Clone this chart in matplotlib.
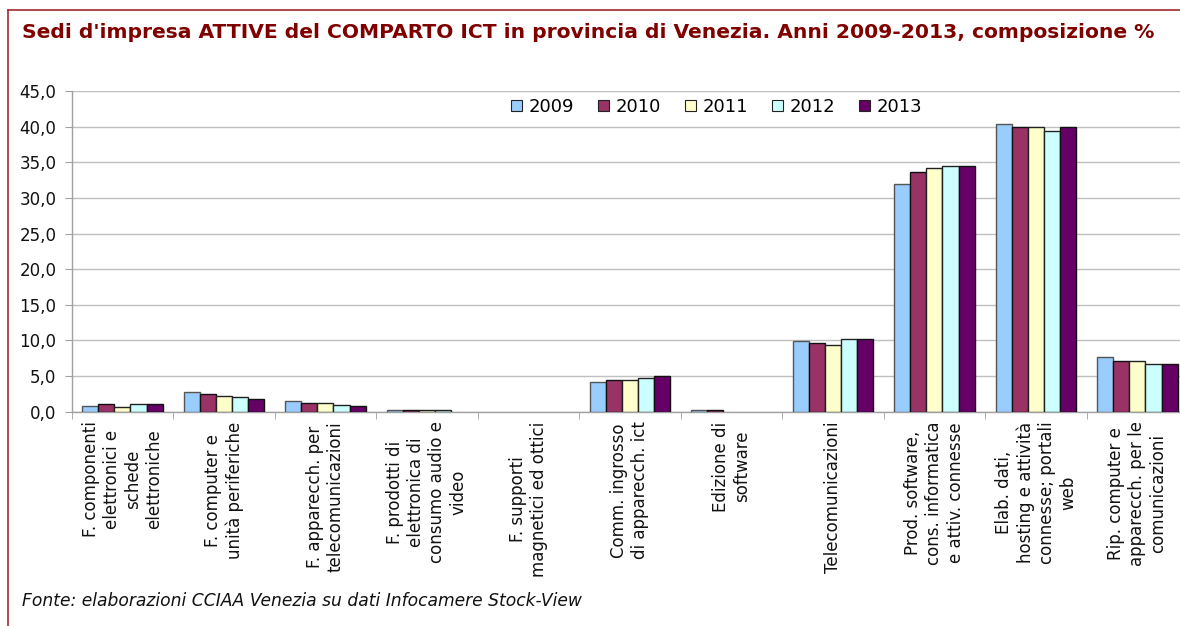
import matplotlib
matplotlib.use("Agg")
import matplotlib.pyplot as plt
from matplotlib.patches import Rectangle
from matplotlib.lines import Line2D
import numpy as np

categories = [
    "F. componenti\nelettronici e\nschede\nelettroniche",
    "F. computer e\nunità periferiche",
    "F. apparecch. per\ntelecomunicazioni",
    "F. prodotti di\nelettronica di\nconsumo audio e\nvideo",
    "F. supporti\nmagnetici ed ottici",
    "Comm. ingrosso\ndi apparecch. ict",
    "Edizione di\nsoftware",
    "Telecomunicazioni",
    "Prod. software,\ncons. informatica\ne attiv. connesse",
    "Elab. dati,\nhosting e attività\nconnesse; portali\nweb",
    "Rip. computer e\napparecch. per le\ncomunicazioni",
]
years = ["2009", "2010", "2011", "2012", "2013"]
v2009 = [0.75, 2.8, 1.5, 0.2, 0.0, 4.2, 0.2, 9.9, 31.95, 40.4, 7.65]
v2010 = [1.05, 2.5, 1.25, 0.3, 0.0, 4.45, 0.3, 9.65, 33.7, 39.95, 7.15]
v2011 = [0.7, 2.25, 1.25, 0.3, 0.0, 4.4, 0.0, 9.35, 34.2, 39.95, 7.15]
v2012 = [1.05, 2.0, 1.0, 0.3, 0.0, 4.7, 0.0, 10.15, 34.5, 39.4, 6.65]
v2013 = [1.05, 1.8, 0.8, 0.0, 0.0, 4.95, 0.0, 10.15, 34.5, 39.95, 6.65]
series = [v2009, v2010, v2011, v2012, v2013]
colors = ["#99CCFF", "#993366", "#FFFFCC", "#CCFFFF", "#660066"]
edges = ["#555555", "#111111", "#222222", "#222222", "#111111"]
yticks = np.arange(0, 46, 5)

W, H = 1180, 626
fig = plt.figure(figsize=(W / 100, H / 100), dpi=100)
fig.patch.set_facecolor("white")

# axes placement in pixels
ax_l, ax_top, ax_bot = 71.7, 91.0, 411.7
cat_w = 101.5
ax_w = cat_w * len(categories)
ax = fig.add_axes([ax_l / W, (H - ax_bot) / H, ax_w / W, (ax_bot - ax_top) / H])

n = len(categories)
x = np.arange(n)
bw = 0.158
for i, (vals, c, ec) in enumerate(zip(series, colors, edges)):
    offs = (i - 2) * bw
    mask = [v > 0 for v in vals]
    xs = [xx + offs for xx, m in zip(x, mask) if m]
    vs = [v for v, m in zip(vals, mask) if m]
    ax.bar(xs, vs, width=bw, color=c, edgecolor=ec, linewidth=1.0, zorder=3,
           label=years[i])

ax.set_xlim(-0.5, n - 0.5)
ax.set_ylim(0, 45)
ax.set_yticks(yticks)
ax.set_yticklabels([f"{t:.1f}".replace(".", ",") for t in yticks], fontsize=12,
                   color="#111111")
ax.yaxis.grid(True, color="#C0C0C0", linewidth=1.0, zorder=0)
ax.set_axisbelow(True)
ax.tick_params(axis="y", length=5, color="#A0A0A0", pad=6)

ax.set_xticks(x)
ax.set_xticklabels(categories, rotation=90, fontsize=12, ha="center", va="top",
                   multialignment="center", color="#111111", linespacing=1.22)
ax.tick_params(axis="x", which="major", length=0, pad=7)
ax.set_xticks(np.arange(-0.5, n, 1.0), minor=True)
ax.tick_params(axis="x", which="minor", length=5, color="#A0A0A0")

for s in ["top", "right"]:
    ax.spines[s].set_visible(False)
for s in ["left", "bottom"]:
    ax.spines[s].set_color("#A0A0A0")
    ax.spines[s].set_linewidth(1.0)

handles = [Rectangle((0, 0), 1, 1, facecolor=c, edgecolor="#222222", linewidth=0.8)
           for c in colors]
leg = ax.legend(handles, years, ncol=5, loc="center",
                bbox_to_anchor=(0.5776, 0.950), fontsize=13, frameon=True,
                handlelength=0.6, handleheight=0.6, handletextpad=0.35,
                columnspacing=1.35, borderpad=0.25, fancybox=False)
leg.get_frame().set_facecolor("white")
leg.get_frame().set_edgecolor("none")
leg.set_zorder(5)

fig.text(22 / W, 1 - 33 / H,
         "Sedi d'impresa ATTIVE del COMPARTO ICT in provincia di Venezia. Anni 2009-2013, composizione %",
         fontsize=14.6, fontweight="bold", color="#800000", ha="left", va="center")
fig.text(22 / W, 1 - 601 / H,
         "Fonte: elaborazioni CCIAA Venezia su dati Infocamere Stock-View",
         fontsize=12.3, style="italic", color="#111111", ha="left", va="center")

# border lines
fig.add_artist(Line2D([8 / W, 8 / W], [0, 1 - 10 / H], color="#A52A2A", linewidth=1.2,
                      transform=fig.transFigure))
fig.add_artist(Line2D([8 / W, 1.0], [1 - 10 / H, 1 - 10 / H], color="#A52A2A",
                      linewidth=1.2, transform=fig.transFigure))

fig.savefig("out.png", dpi=100, facecolor="white")
